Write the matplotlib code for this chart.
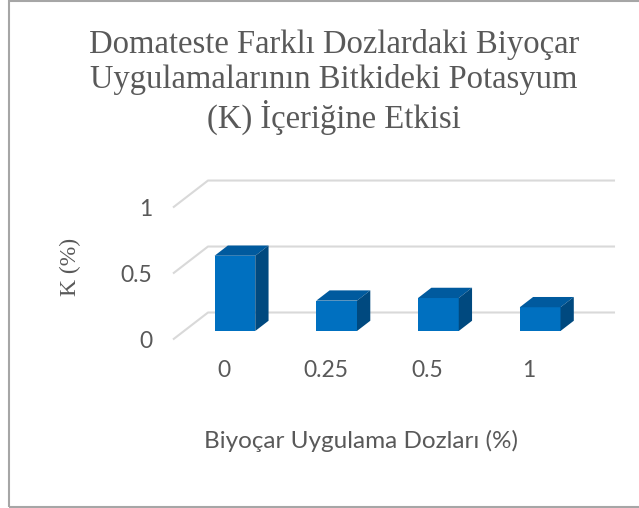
import matplotlib
matplotlib.use("Agg")
import matplotlib.pyplot as plt
from matplotlib.patches import Polygon, Rectangle

# Data
doses = ["0", "0.25", "0.5", "1"]
k_percent = [0.57, 0.23, 0.25, 0.18]
y_ticks = [0, 0.5, 1]
y_tick_labels = ["0", "0.5", "1"]

title = "Domateste Farklı Dozlardaki Biyoçar\nUygulamalarının Bitkideki Potasyum\n(K) İçeriğine Etkisi"
x_title = "Biyoçar Uygulama Dozları (%)"
y_title = "K (%)"

# Style
text_gray = "#595959"
grid_gray = "#d9d9d9"
face_front = "#0070c0"
face_top = "#005a9e"
face_side = "#00497f"
serif = ["Liberation Serif", "DejaVu Serif"]
sans = ["Lato", "DejaVu Sans"]

# Oblique depth vector (data units) and bar geometry
depth_dx, depth_dy = 0.344, 0.2045
bar_width = 0.40
bar_z0, bar_depth = 0.315, 0.38

W, H = 639, 508
fig = plt.figure(figsize=(W / 100, H / 100), dpi=100)
ax = fig.add_axes([173 / W, (H - 339.5) / H, 407 / W, 159.7 / H])
ax.set_xlim(-0.5, 3.5)
ax.set_ylim(0, 1.21)
for s in ax.spines.values():
    s.set_visible(False)
ax.patch.set_alpha(0)

# Floor edge and back wall gridlines
x_left, x_right = -0.5, len(doses) - 0.5
for v in y_ticks:
    ax.plot([x_left, x_left + depth_dx, x_right + depth_dx],
            [v, v + depth_dy, v + depth_dy],
            color=grid_gray, lw=1.5, clip_on=False, zorder=1,
            solid_capstyle="butt")

# Bars: front face via ax.bar, top and side faces as oblique polygons
ox, oy = bar_z0 * depth_dx, bar_z0 * depth_dy
bx, by = bar_depth * depth_dx, bar_depth * depth_dy
for i, val in enumerate(k_percent):
    xc = i + ox
    xl, xr = xc - bar_width / 2, xc + bar_width / 2
    yb, yt = oy, oy + val
    ax.bar(xc, val, width=bar_width, bottom=yb, color=face_front,
           edgecolor="none", zorder=3, clip_on=False)
    ax.add_patch(Polygon([(xl, yt), (xr, yt), (xr + bx, yt + by), (xl + bx, yt + by)],
                         closed=True, facecolor=face_top, edgecolor="none",
                         zorder=3, clip_on=False))
    ax.add_patch(Polygon([(xr, yb), (xr, yt), (xr + bx, yt + by), (xr + bx, yb + by)],
                         closed=True, facecolor=face_side, edgecolor="none",
                         zorder=3, clip_on=False))

ax.set_xticks(range(len(doses)))
ax.set_xticklabels(doses, fontfamily=sans, fontsize=16.5, color=text_gray)
ax.set_yticks(y_ticks)
ax.set_yticklabels(y_tick_labels, fontfamily=sans, fontsize=16.5, color=text_gray)
ax.tick_params(axis="x", length=0, pad=15)
ax.tick_params(axis="y", length=0, pad=15)

# Titles
fig.text(334 / W, 1 - 82 / H, title, ha="center", va="center",
         fontfamily=serif, fontsize=23.5, color=text_gray, linespacing=1.15)
fig.text(361.5 / W, 1 - 441 / H, x_title, ha="center", va="center",
         fontfamily=sans, fontsize=17.5, color=text_gray)
fig.text(70 / W, 1 - 267 / H, y_title, ha="center", va="center", rotation=90,
         fontfamily=serif, fontsize=17, color=text_gray)

# Chart border
fig.patches.append(Rectangle((8.5 / W, 1.5 / H), 1.0, (H - 2.5) / H,
                             transform=fig.transFigure, fill=False,
                             edgecolor="#a6a6a6", lw=1.5, clip_on=False))

fig.savefig("out.png", dpi=100, facecolor="white")
